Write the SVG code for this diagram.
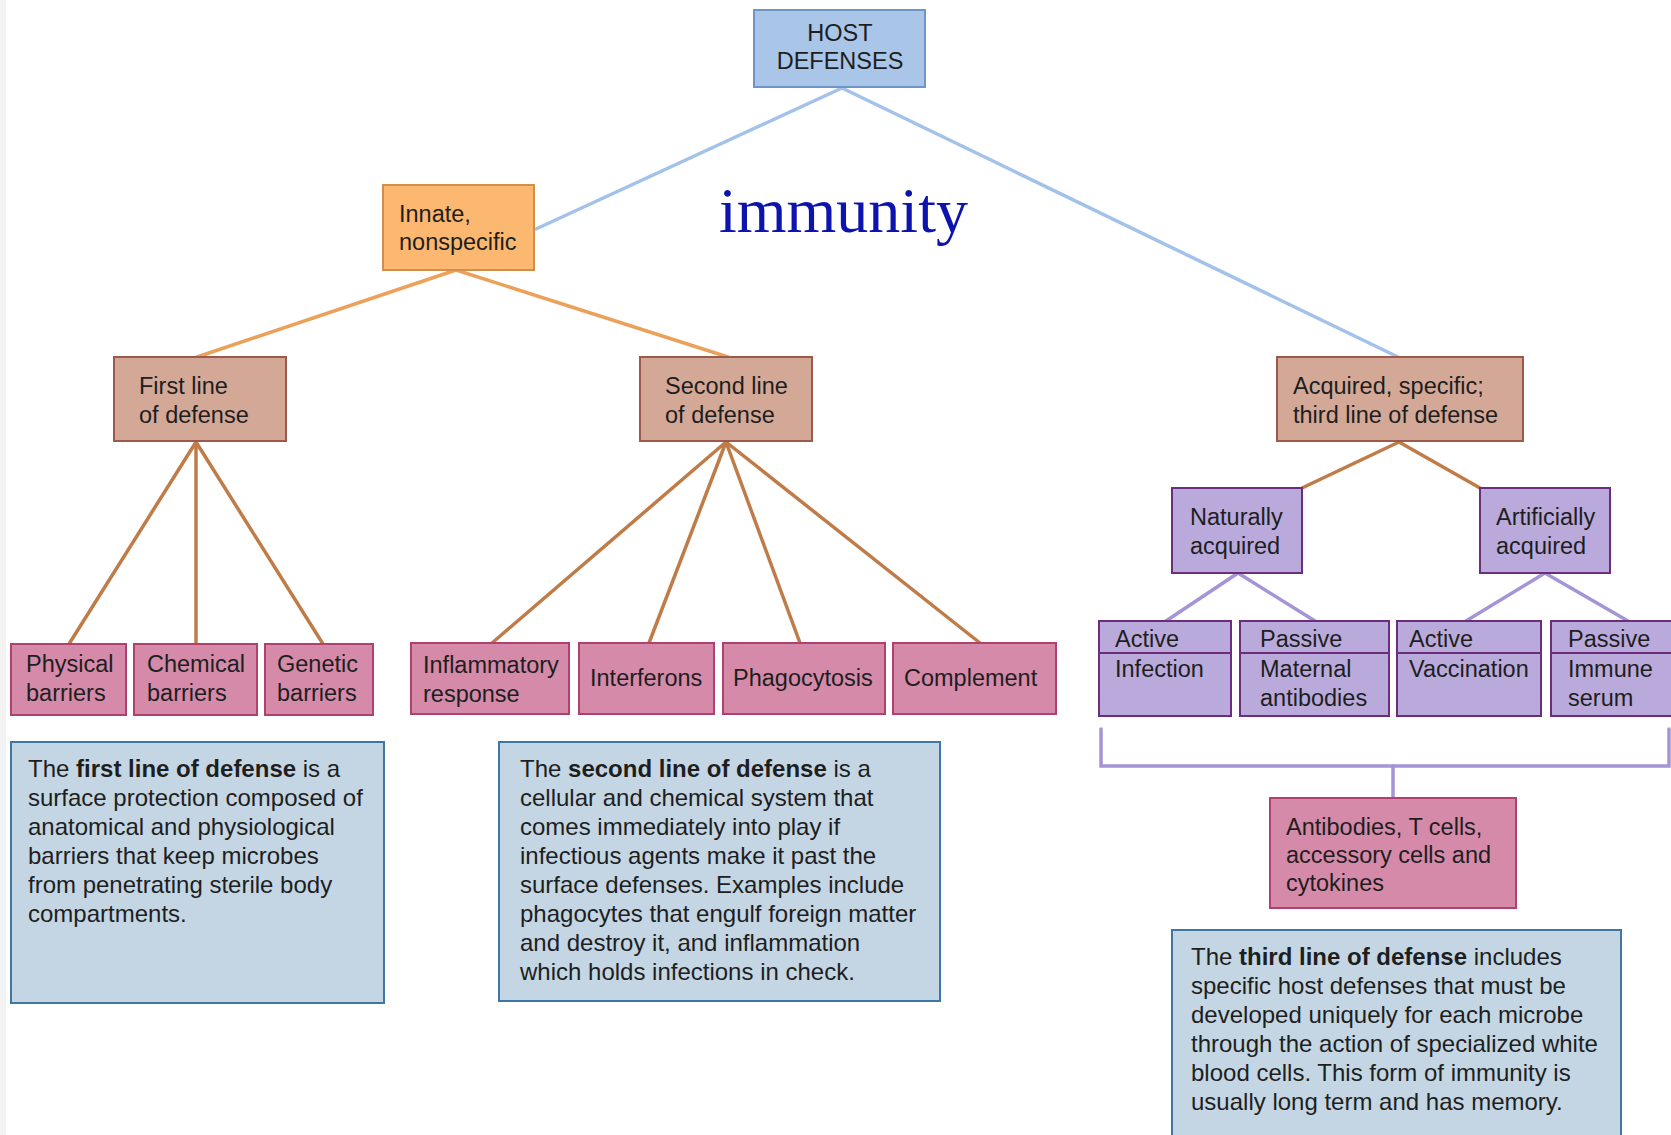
<svg xmlns="http://www.w3.org/2000/svg" width="1671" height="1135" viewBox="0 0 1671 1135">
<style>
  text { font-family: "Liberation Sans", Arial, sans-serif; fill: #1e1e1e; }
  .n { font-size: 23.5px; }
  .p { font-size: 24px; }
  .b { font-weight: bold; }
  .host { fill: #a9c5e8; stroke: #6f95c5; stroke-width: 2; }
  .innate { fill: #fcb870; stroke: #d08f4c; stroke-width: 2; }
  .tan { fill: #d3a897; stroke: #9c5a4a; stroke-width: 2; }
  .pink { fill: #d58aaa; stroke: #b2406e; stroke-width: 2; }
  .purple { fill: #b9aadb; stroke: #6d2d7d; stroke-width: 2; }
  .info { fill: #c4d6e3; stroke: #3f76a2; stroke-width: 2; }
  .c { fill: none; stroke-width: 3.5; stroke-linecap: round; }
  .cb { stroke: #a3c2ea; }
  .co { stroke: #eba159; }
  .cr { stroke: #c07c48; }
  .cp { stroke: #a594d6; }
</style>
<rect x="0" y="0" width="1671" height="1135" fill="#ffffff"/>
<rect x="0" y="0" width="6" height="1135" fill="#f3f3f3"/>

<g id="connectors">
  <line class="c cb" x1="842" y1="88" x2="536" y2="229"/>
  <line class="c cb" x1="842" y1="88" x2="1398" y2="357"/>
  <line class="c co" x1="456" y1="270" x2="197" y2="357"/>
  <line class="c co" x1="456" y1="270" x2="728" y2="357"/>
  <line class="c cr" x1="196" y1="442" x2="69" y2="644"/>
  <line class="c cr" x1="196" y1="442" x2="196" y2="644"/>
  <line class="c cr" x1="196" y1="442" x2="323" y2="644"/>
  <line class="c cr" x1="726" y1="442" x2="492" y2="643"/>
  <line class="c cr" x1="726" y1="442" x2="649" y2="643"/>
  <line class="c cr" x1="726" y1="442" x2="800" y2="643"/>
  <line class="c cr" x1="726" y1="442" x2="980" y2="643"/>
  <line class="c cr" x1="1399" y1="442" x2="1302" y2="488"/>
  <line class="c cr" x1="1399" y1="442" x2="1480" y2="488"/>
  <line class="c cp" x1="1238" y1="573" x2="1166" y2="621"/>
  <line class="c cp" x1="1238" y1="573" x2="1315" y2="621"/>
  <line class="c cp" x1="1545" y1="573" x2="1466" y2="621"/>
  <line class="c cp" x1="1545" y1="573" x2="1628" y2="621"/>
  <path class="c cp" d="M1101,729 V766 H1669 V729"/>
  <line class="c cp" x1="1393" y1="766" x2="1393" y2="797"/>
</g>

<text x="719" y="232" style="font-family:'Liberation Serif','Times New Roman',serif;font-size:64px;fill:#0c14ad">immunity</text>

<g id="host-defenses">
  <rect class="host" x="754" y="10" width="171" height="77"/>
  <text class="n" x="840" y="41" text-anchor="middle">HOST</text>
  <text class="n" x="840" y="69" text-anchor="middle">DEFENSES</text>
</g>
<g id="innate">
  <rect class="innate" x="383" y="185" width="151" height="85"/>
  <text class="n" x="399" y="222">Innate,</text>
  <text class="n" x="399" y="250">nonspecific</text>
</g>
<g id="first-line">
  <rect class="tan" x="114" y="357" width="172" height="84"/>
  <text class="n" x="139" y="394">First line</text>
  <text class="n" x="139" y="423">of defense</text>
</g>
<g id="second-line">
  <rect class="tan" x="640" y="357" width="172" height="84"/>
  <text class="n" x="665" y="394">Second line</text>
  <text class="n" x="665" y="423">of defense</text>
</g>
<g id="acquired">
  <rect class="tan" x="1277" y="357" width="246" height="84"/>
  <text class="n" x="1293" y="394">Acquired, specific;</text>
  <text class="n" x="1293" y="423">third line of defense</text>
</g>

<g id="physical">
  <rect class="pink" x="11" y="644" width="115" height="71"/>
  <text class="n" x="26" y="672">Physical</text>
  <text class="n" x="26" y="701">barriers</text>
</g>
<g id="chemical">
  <rect class="pink" x="134" y="644" width="123" height="71"/>
  <text class="n" x="147" y="672">Chemical</text>
  <text class="n" x="147" y="701">barriers</text>
</g>
<g id="genetic">
  <rect class="pink" x="265" y="644" width="108" height="71"/>
  <text class="n" x="277" y="672">Genetic</text>
  <text class="n" x="277" y="701">barriers</text>
</g>
<g id="inflammatory">
  <rect class="pink" x="411" y="643" width="158" height="71"/>
  <text class="n" x="423" y="673">Inflammatory</text>
  <text class="n" x="423" y="702">response</text>
</g>
<g id="interferons">
  <rect class="pink" x="579" y="643" width="135" height="71"/>
  <text class="n" x="590" y="686">Interferons</text>
</g>
<g id="phagocytosis">
  <rect class="pink" x="723" y="643" width="162" height="71"/>
  <text class="n" x="733" y="686">Phagocytosis</text>
</g>
<g id="complement">
  <rect class="pink" x="893" y="643" width="163" height="71"/>
  <text class="n" x="904" y="686">Complement</text>
</g>

<g id="naturally">
  <rect class="purple" x="1172" y="488" width="130" height="85"/>
  <text class="n" x="1190" y="525">Naturally</text>
  <text class="n" x="1190" y="554">acquired</text>
</g>
<g id="artificially">
  <rect class="purple" x="1480" y="488" width="130" height="85"/>
  <text class="n" x="1496" y="525">Artificially</text>
  <text class="n" x="1496" y="554">acquired</text>
</g>
<g id="active-infection">
  <rect class="purple" x="1099" y="621" width="132" height="95"/>
  <line x1="1099" y1="653" x2="1231" y2="653" stroke="#6d2d7d" stroke-width="2"/>
  <text class="n" x="1115" y="647">Active</text>
  <text class="n" x="1115" y="677">Infection</text>
</g>
<g id="passive-maternal">
  <rect class="purple" x="1240" y="621" width="149" height="95"/>
  <line x1="1240" y1="653" x2="1389" y2="653" stroke="#6d2d7d" stroke-width="2"/>
  <text class="n" x="1260" y="647">Passive</text>
  <text class="n" x="1260" y="677">Maternal</text>
  <text class="n" x="1260" y="706">antibodies</text>
</g>
<g id="active-vaccination">
  <rect class="purple" x="1397" y="621" width="144" height="95"/>
  <line x1="1397" y1="653" x2="1541" y2="653" stroke="#6d2d7d" stroke-width="2"/>
  <text class="n" x="1409" y="647">Active</text>
  <text class="n" x="1409" y="677">Vaccination</text>
</g>
<g id="passive-immune">
  <rect class="purple" x="1551" y="621" width="130" height="95"/>
  <line x1="1551" y1="653" x2="1681" y2="653" stroke="#6d2d7d" stroke-width="2"/>
  <text class="n" x="1568" y="647">Passive</text>
  <text class="n" x="1568" y="677">Immune</text>
  <text class="n" x="1568" y="706">serum</text>
</g>
<g id="antibodies">
  <rect class="pink" x="1270" y="798" width="246" height="110"/>
  <text class="n" x="1286" y="835">Antibodies, T cells,</text>
  <text class="n" x="1286" y="863">accessory cells and</text>
  <text class="n" x="1286" y="891">cytokines</text>
</g>

<g id="first-info">
  <rect class="info" x="11" y="742" width="373" height="261"/>
  <text class="p" x="28" y="777">The <tspan class="b">first line of defense</tspan> is a</text>
  <text class="p" x="28" y="806">surface protection composed of</text>
  <text class="p" x="28" y="835">anatomical and physiological</text>
  <text class="p" x="28" y="864">barriers that keep microbes</text>
  <text class="p" x="28" y="893">from penetrating sterile body</text>
  <text class="p" x="28" y="922">compartments.</text>
</g>
<g id="second-info">
  <rect class="info" x="499" y="742" width="441" height="259"/>
  <text class="p" x="520" y="777">The <tspan class="b">second line of defense</tspan> is a</text>
  <text class="p" x="520" y="806">cellular and chemical system that</text>
  <text class="p" x="520" y="835">comes immediately into play if</text>
  <text class="p" x="520" y="864">infectious agents make it past the</text>
  <text class="p" x="520" y="893">surface defenses. Examples include</text>
  <text class="p" x="520" y="922">phagocytes that engulf foreign matter</text>
  <text class="p" x="520" y="951">and destroy it, and inflammation</text>
  <text class="p" x="520" y="980">which holds infections in check.</text>
</g>
<g id="third-info">
  <rect class="info" x="1172" y="930" width="449" height="215"/>
  <text class="p" x="1191" y="965">The <tspan class="b">third line of defense</tspan> includes</text>
  <text class="p" x="1191" y="994">specific host defenses that must be</text>
  <text class="p" x="1191" y="1023">developed uniquely for each microbe</text>
  <text class="p" x="1191" y="1052">through the action of specialized white</text>
  <text class="p" x="1191" y="1081">blood cells. This form of immunity is</text>
  <text class="p" x="1191" y="1110">usually long term and has memory.</text>
</g>
</svg>
